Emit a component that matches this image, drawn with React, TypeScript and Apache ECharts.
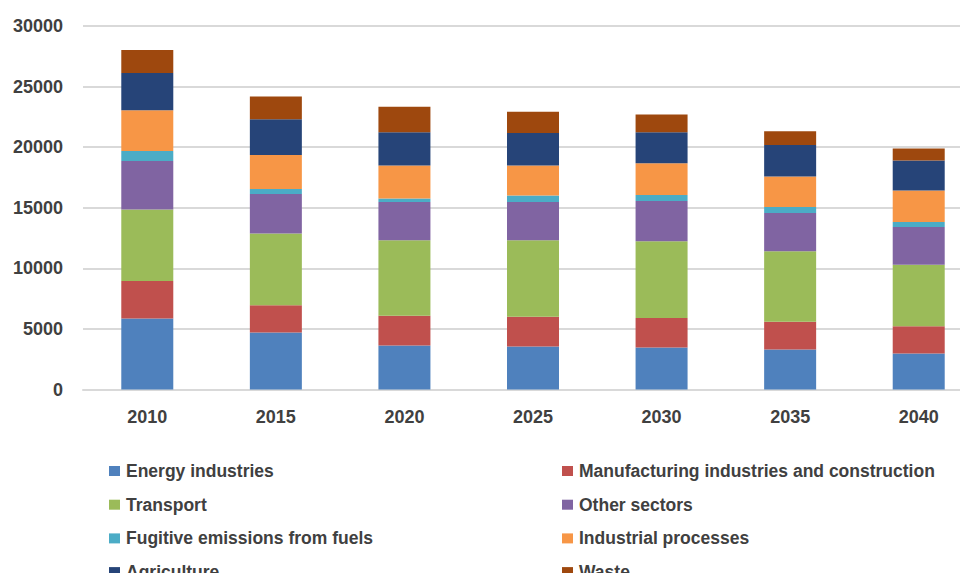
import React, { useEffect, useRef } from "react";
import * as echarts from "echarts";

const years = ["2010", "2015", "2020", "2025", "2030", "2035", "2040"];
const energyIndustries = [5860, 4710, 3640, 3550, 3470, 3310, 2980];
const manufacturing = [3090, 2250, 2450, 2460, 2430, 2280, 2250];
const transport = [5910, 5920, 6220, 6300, 6330, 5810, 5070];
const otherSectors = [3990, 3250, 3170, 3170, 3330, 3170, 3120];
const fugitive = [830, 410, 280, 530, 500, 500, 410];
const industrialProcesses = [3360, 2810, 2720, 2470, 2620, 2510, 2590];
const agriculture = [3080, 2950, 2760, 2680, 2560, 2590, 2480];
const waste = [1900, 1890, 2090, 1760, 1460, 1150, 990];

const seriesDefs = [
  { name: "Energy industries", data: energyIndustries, color: "#4F81BD" },
  { name: "Manufacturing industries and construction", data: manufacturing, color: "#C0504D" },
  { name: "Transport", data: transport, color: "#9BBB59" },
  { name: "Other sectors", data: otherSectors, color: "#8064A2" },
  { name: "Fugitive emissions from fuels", data: fugitive, color: "#4BACC6" },
  { name: "Industrial processes", data: industrialProcesses, color: "#F79646" },
  { name: "Agriculture", data: agriculture, color: "#264478" },
  { name: "Waste", data: waste, color: "#9E480E" },
];

const leftLegend = ["Energy industries", "Transport", "Fugitive emissions from fuels", "Agriculture"];
const rightLegend = [
  "Manufacturing industries and construction",
  "Other sectors",
  "Industrial processes",
  "Waste",
];

export default function App() {
  const ref = useRef<HTMLDivElement>(null);
  useEffect(() => {
    if (!ref.current) return;
    const chart = echarts.init(ref.current, null, { renderer: "svg" });
    const font = "'Liberation Sans', Arial, sans-serif";
    const legendCommon = {
      orient: "vertical",
      icon: "rect",
      itemWidth: 11,
      itemHeight: 10,
      itemGap: 15.7,
      height: 200,
      textStyle: {
        fontFamily: font,
        fontSize: 17.5,
        fontWeight: "bold",
        color: "#404040",
        lineHeight: 18,
        padding: [0, 0, 0, 1],
      },
      selectedMode: false,
    };
    chart.setOption({
      animation: false,
      backgroundColor: "#ffffff",
      grid: { left: 83, top: 26, bottom: 191.5, right: 0, containLabel: false },
      legend: [
        { ...legendCommon, left: 104, top: 457, data: leftLegend },
        { ...legendCommon, left: 557, top: 457, data: rightLegend },
      ],
      xAxis: {
        type: "category",
        data: years,
        axisTick: { show: false },
        axisLine: { lineStyle: { color: "#D9D9D9", width: 2 } },
        axisLabel: {
          margin: 18,
          fontFamily: font,
          fontSize: 18,
          fontWeight: "bold",
          color: "#404040",
        },
      },
      yAxis: {
        type: "value",
        min: 0,
        max: 30000,
        interval: 5000,
        axisLine: { show: false },
        axisTick: { show: false },
        splitLine: { lineStyle: { color: "#D9D9D9", width: 2 } },
        axisLabel: {
          margin: 20,
          fontFamily: font,
          fontSize: 18,
          fontWeight: "bold",
          color: "#404040",
          formatter: (v: number) => String(v),
        },
      },
      series: seriesDefs.map((s) => ({
        name: s.name,
        type: "bar",
        stack: "total",
        data: s.data,
        barWidth: 52,
        itemStyle: { color: s.color },
      })),
    });
    return () => chart.dispose();
  }, []);
  return (
    <div style={{ width: 968, height: 581, overflow: "hidden", margin: -8 }}>
      <div ref={ref} style={{ width: 983, height: 581 }} />
    </div>
  );
}
